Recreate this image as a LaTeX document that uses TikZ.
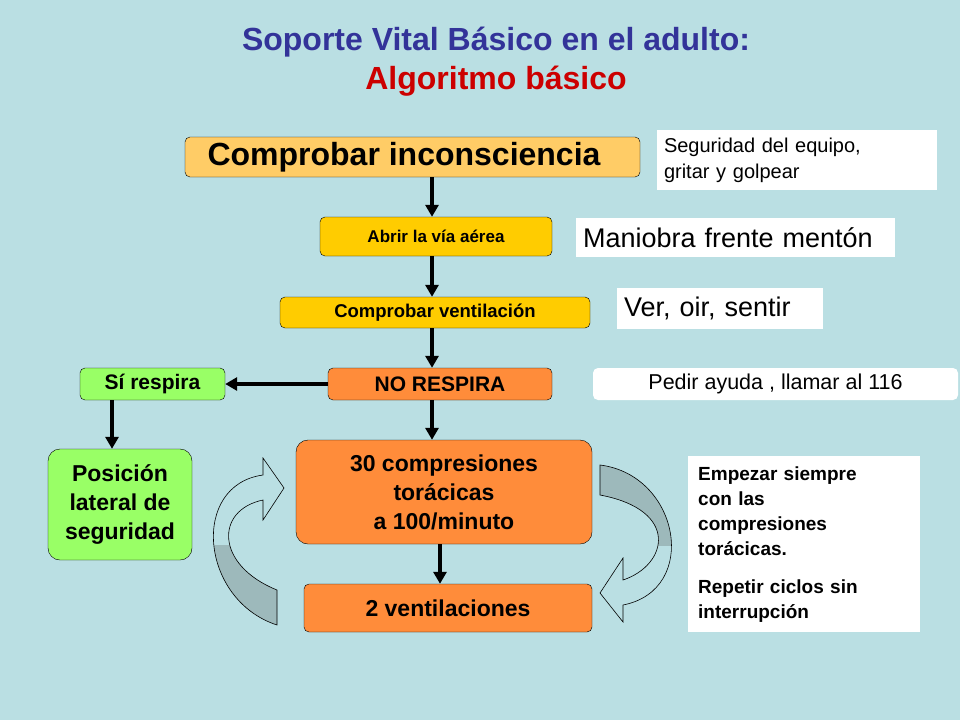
\documentclass[tikz,border=0pt]{standalone}
\usepackage{fontspec}
\setmainfont{Liberation Sans}
\usetikzlibrary{arrows.meta}
\definecolor{bg}{HTML}{BADFE3}
\definecolor{ttl}{HTML}{333399}
\definecolor{red2}{HTML}{CC0000}
\definecolor{gold}{HTML}{FFCC00}
\definecolor{lgold}{HTML}{FFCC66}
\definecolor{orng}{HTML}{FF8C3A}
\definecolor{grn}{HTML}{99FF66}
\definecolor{ribboncol}{HTML}{9DB9BB}
\begin{document}
\begin{tikzpicture}[x=1pt,y=-1pt,
 box/.style={draw=black,rounded corners=5pt,font=\bfseries,align=center,inner sep=0pt},
 note/.style={fill=white,inner sep=0pt},
 arr/.style={line width=3.2pt,-{Triangle[length=12pt,width=13pt]}}]
\fill[bg] (0,0) rectangle (960,720);
\useasboundingbox (0,0) rectangle (960,720);
\node[text=ttl,font=\bfseries\fontsize{32}{36}\selectfont] (t1) at (496,42) {Soporte Vital Básico en el adulto:};
\node[text=red2,font=\bfseries\fontsize{32}{36}\selectfont] (t2) at (496,81) {Algoritmo básico};
% boxes
\node[box,fill=lgold,minimum width=455pt,minimum height=40pt] (b1) at (412.5,157) {};
\node[font=\bfseries\fontsize{32}{36}\selectfont] (b1t) at (404,157) {Comprobar inconsciencia};
\node[box,fill=gold,minimum width=232pt,minimum height=39pt,font=\bfseries\fontsize{17}{20}\selectfont] (b2) at (436,236.5) {Abrir la vía aérea};
\node[box,fill=gold,minimum width=310pt,minimum height=31pt,font=\bfseries\fontsize{18.5}{22}\selectfont] (b3) at (435,312.5) {Comprobar ventilación};
\node[box,fill=orng,minimum width=224pt,minimum height=32pt,font=\bfseries\fontsize{21}{24}\selectfont] (b4) at (440,384) {NO RESPIRA};
\node[box,fill=grn,minimum width=145pt,minimum height=32pt,font=\bfseries\fontsize{21}{24}\selectfont] (si) at (152.5,384) {Sí respira};
\node[box,fill=grn,rounded corners=12pt,minimum width=144pt,minimum height=111pt,font=\bfseries\fontsize{23}{29}\selectfont] (pos) at (120,504.5) {Posición\\ lateral de\\ seguridad};
\node[box,fill=orng,rounded corners=12pt,minimum width=296pt,minimum height=104pt,font=\bfseries\fontsize{23}{29}\selectfont] (b5) at (444,492) {30 compresiones\\ torácicas\\ a 100/minuto};
\node[box,fill=orng,minimum width=288pt,minimum height=48pt,font=\bfseries\fontsize{23}{26}\selectfont] (b6) at (448,608) {2 ventilaciones};
% notes
\node[note,minimum width=280pt,minimum height=60pt,text width=266pt,align=left,font=\fontsize{20}{26}\selectfont] (n1) at (797,160) {Seguridad del equipo,\\gritar y golpear};
\node[note,minimum width=319pt,minimum height=39pt,text width=305pt,align=left,font=\fontsize{27}{30}\selectfont] (n2) at (735.5,237.5) {Maniobra frente mentón};
\node[note,minimum width=206pt,minimum height=41pt,text width=192pt,align=left,font=\fontsize{27}{30}\selectfont] (n3) at (720,308.5) {Ver, oir, sentir};
\node[note,rounded corners=5pt,minimum width=365pt,minimum height=32pt,font=\fontsize{21.5}{24}\selectfont] (n4) at (775.5,384) {Pedir ayuda , llamar al 116};
\node[note,minimum width=232pt,minimum height=176pt] (n5) at (804,544) {};
\node[anchor=north west,text width=222pt,align=left,inner sep=0pt,font=\bfseries\fontsize{19}{25}\selectfont] (n5t) at (698,467) {Empezar siempre\\con las\\compresiones\\torácicas.\\[13pt]Repetir ciclos sin\\interrupción};
% arrows
\draw[arr] (b1.south -| 432,0) -- (b2.north -| 432,0);
\draw[arr] (b2.south -| 432,0) -- (b3.north -| 432,0);
\draw[arr] (b3.south -| 432,0) -- (b4.north -| 432,0);
\draw[arr] (b4.south -| 432,0) -- (b5.north -| 432,0);
\draw[arr] (b4.west) -- (si.east);
\draw[arr] (si.south -| 112,0) -- (pos.north -| 112,0);
\draw[arr] (b5.south -| 440,0) -- (b6.north -| 440,0);
% left curved arrow
\def\leftarrowpath{(277,625) .. controls (200,600) and (190,485) .. (263,475) -- (263,458) -- (284,488) -- (263,520) -- (263,500) .. controls (215,510) and (215,565) .. (277,590) -- cycle}
\fill[bg] \leftarrowpath;
\begin{scope}
\clip (150,545) rectangle (300,640);
\fill[ribboncol] \leftarrowpath;
\end{scope}
\draw[black,line width=0.6pt] \leftarrowpath;
% right curved arrow
\def\rightarrowpath{(600,465) .. controls (680,475) and (700,590) .. (623,605) -- (623,622) -- (600,593) -- (623,558) -- (623,580) .. controls (668,565) and (680,510) .. (600,495) -- cycle}
\fill[bg] \rightarrowpath;
\begin{scope}
\clip (590,450) rectangle (700,545);
\fill[ribboncol] \rightarrowpath;
\end{scope}
\draw[black,line width=0.6pt] \rightarrowpath;
\end{tikzpicture}
\end{document}
